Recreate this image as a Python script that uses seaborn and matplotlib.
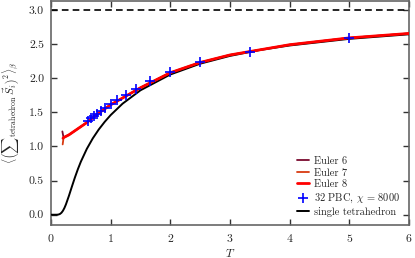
import numpy as np
import pandas as pd
import seaborn as sns
import matplotlib
matplotlib.use("Agg")
import matplotlib.pyplot as plt

# datos
t_tetra = [0.0, 0.05, 0.1, 0.125, 0.15, 0.175, 0.2, 0.225, 0.25, 0.3, 0.35, 0.4, 0.45, 0.5,
           0.6, 0.7, 0.8, 0.9, 1.0, 1.2, 1.5, 2.0, 2.5, 3.0, 3.5, 4.0, 5.0, 6.0]
s2_tetra = [0.0, 0.0, 0.0004, 0.003, 0.0114, 0.0293, 0.0589, 0.1004, 0.1524, 0.2772, 0.4128,
            0.545, 0.667, 0.7771, 0.9647, 1.1185, 1.2484, 1.3607, 1.4597, 1.627, 1.8228,
            2.0538, 2.2122, 2.3264, 2.4122, 2.479, 2.576, 2.6427]

t_euler = [0.21, 0.3, 0.4, 0.5, 0.6, 0.7, 0.8, 1.0, 1.2, 1.5, 2.0, 2.5, 3.0, 4.0, 5.0, 6.0]
s2_euler8 = [1.13, 1.17, 1.23, 1.29, 1.35, 1.42, 1.49, 1.61, 1.71, 1.86, 2.08, 2.23, 2.34,
             2.49, 2.59, 2.655]
# extremos a baja T (el "gancho")
t_e6 = [0.19] + t_euler
s2_euler6 = [1.22] + s2_euler8
t_e7 = [0.195] + t_euler
s2_euler7 = [1.03] + s2_euler8
t_e8 = [0.2] + t_euler
s2_e8 = [1.12] + s2_euler8

t_pbc = [0.625, 0.667, 0.714, 0.769, 0.833, 0.909, 1.0, 1.111, 1.25, 1.429, 1.667, 2.0,
         2.5, 3.333, 5.0]
s2_pbc = [1.38, 1.41, 1.44, 1.48, 1.52, 1.57, 1.62, 1.68, 1.75, 1.84, 1.96, 2.09, 2.23,
          2.39, 2.59]

sns.set_style("ticks")
plt.rcParams["font.family"] = "serif"
plt.rcParams["font.serif"] = ["cmr10", "DejaVu Serif"]
plt.rcParams["mathtext.fontset"] = "cm"
plt.rcParams["axes.formatter.use_mathtext"] = True

fig = plt.figure(figsize=(4.15, 2.58), dpi=100)
ax = fig.add_axes([0.123, 0.128, 0.862, 0.868])

ax.axhline(3.0, color="black", lw=1.2, ls=(0, (4, 2.5)))
sns.lineplot(x=t_tetra, y=s2_tetra, ax=ax, color="black", lw=1.4, estimator=None,
             label="single tetrahedron", zorder=3)
sns.lineplot(x=t_e6, y=s2_euler6, ax=ax, color="#7a0a2e", lw=1.3, estimator=None,
             label="Euler 6", zorder=4)
sns.lineplot(x=t_e7, y=s2_euler7, ax=ax, color="#d83a10", lw=1.3, estimator=None,
             label="Euler 7", zorder=4)
sns.lineplot(x=t_e8, y=s2_e8, ax=ax, color="#ff0000", lw=2.0, estimator=None,
             label="Euler 8", zorder=5)
sns.scatterplot(x=t_pbc, y=s2_pbc, ax=ax, marker="+", s=50, color="#0000ff",
                linewidth=1.2, label=r"32 PBC, $\chi$ = 8000", zorder=6)

ax.set_xlim(0, 6)
ax.set_ylim(-0.15, 3.13)
ax.set_xticks(range(7))
ax.set_yticks(np.arange(0, 3.01, 0.5))
ax.yaxis.set_major_formatter(matplotlib.ticker.FormatStrFormatter("%.1f"))
ax.tick_params(direction="in", top=True, right=True, length=4, width=1.0,
               labelsize=8.5, color="#333333", pad=5)
for sp in ax.spines.values():
    sp.set_color("#666666")
    sp.set_linewidth(1.2)

ax.set_xlabel(r"$T$", fontsize=8.5, labelpad=2)
ax.set_ylabel(r"$\langle\left(\sum{}_{\mathrm{tetrahedron}}\,\vec{S}_i\right)^2\rangle_\beta$",
              fontsize=8)
ax.yaxis.set_label_coords(-0.085, 0.5)

handles, labels = ax.get_legend_handles_labels()
orden = ["Euler 6", "Euler 7", "Euler 8", r"32 PBC, $\chi$ = 8000", "single tetrahedron"]
h = [handles[labels.index(o)] for o in orden]
ax.legend(h, orden, loc="lower right", bbox_to_anchor=(1.0, 0.0), frameon=False,
          fontsize=7.5, handlelength=1.2, handletextpad=0.5, labelspacing=0.2,
          borderaxespad=0.4)

fig.savefig("out.png", dpi=100)
